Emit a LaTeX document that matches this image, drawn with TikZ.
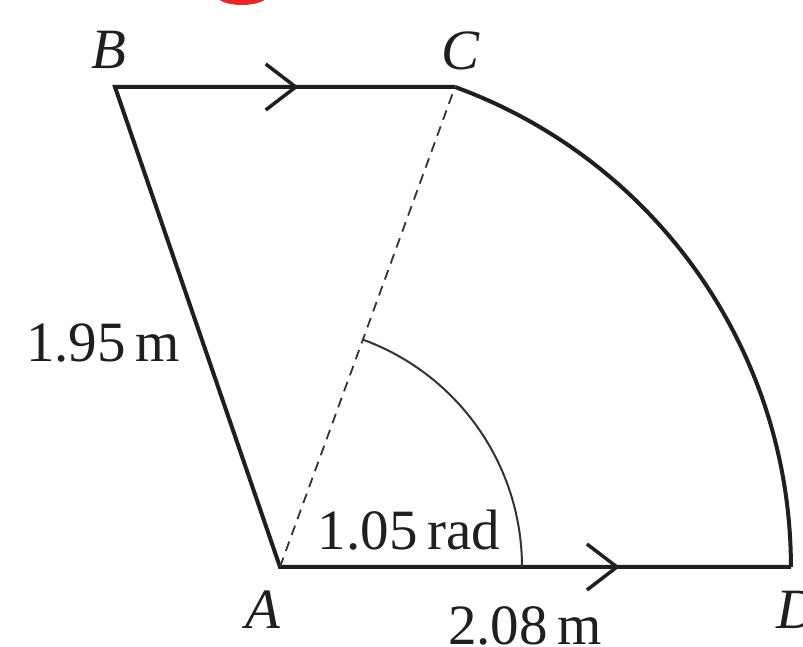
\documentclass[tikz,border=0pt]{standalone}
\usepackage{fontspec}
\setmainfont{Liberation Serif}
\usetikzlibrary{arrows.meta,decorations.markings}
\begin{document}
\begin{tikzpicture}[x=1pt,y=1pt,
  edge/.style={line width=4pt, line join=miter, draw=black!88},
  thinarc/.style={line width=2pt, draw=black!80},
  dashline/.style={line width=1.8pt, draw=black!80, dash pattern=on 10pt off 7pt},
  lab/.style={font=\fontsize{57}{68}\selectfont, text=black!88, inner sep=0pt},
  midarrow/.style={postaction={decorate, decoration={markings, mark=at position #1 with {\arrow{Straight Barb[length=30pt,width=46pt,line width=3.5pt]}}}}}
]
\useasboundingbox (0,0) rectangle (803,647);
\fill[red!90!black, opacity=0.85] (242,652) ellipse (26 and 10);
\coordinate (A) at (280,80);
\coordinate (B) at (115,560);
\coordinate (C) at (455,560);
\coordinate (D) at (791,80);
\coordinate (E) at (522,80);
% outline
\draw[edge] (C) -- (B) -- (A) -- (D);
\draw[edge] (C) arc[start angle=69.97, end angle=0, radius=510.9];
\draw[edge, midarrow=0.54] (B) -- (C);
\draw[edge, midarrow=0.665] (A) -- (D);
% dashed radius and angle arc
\draw[dashline] (A) -- (C);
\draw[thinarc] (E) arc[start angle=0, end angle=69.97, radius=242];
% labels
\node[lab] (lB) at (109,597) {\textit{B}};
\node[lab] (lC) at (461,596) {\textit{C}};
\node[lab] (lA) at (263,37) {\textit{A}};
\node[lab] (lD) at (797,37) {\textit{D}};
\node[lab, anchor=base] (l1) at (103,285) {1.95\,m};
\node[lab, anchor=base] (l2) at (409,97) {1.05\,rad};
\node[lab, anchor=base] (l3) at (525,2) {2.08\,m};
\end{tikzpicture}
\end{document}
